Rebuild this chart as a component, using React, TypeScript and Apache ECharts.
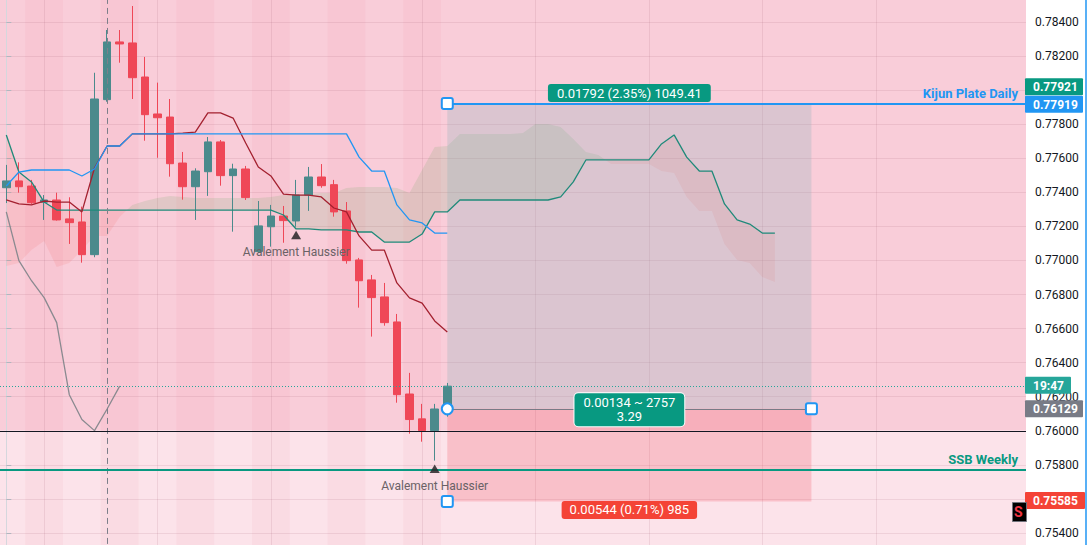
import React, { useEffect, useRef } from "react";
import * as echarts from "echarts";

// ---------- DATA ----------
const candleOpen = [0.77427, 0.77467, 0.77437, 0.77342, 0.77355, 0.77244, 0.77226, 0.77034, 0.77944, 0.78283, 0.78277, 0.78077, 0.7786, 0.77842, 0.77572, 0.77433, 0.77521, 0.77696, 0.77498, 0.77537, 0.77052, 0.77198, 0.77261, 0.77232, 0.77384, 0.7749, 0.77445, 0.77291, 0.77003, 0.76886, 0.76786, 0.76639, 0.76216, 0.7607, 0.76001, 0.76122];
const candleClose = [0.77467, 0.77433, 0.77339, 0.77355, 0.77238, 0.77222, 0.77034, 0.77948, 0.78283, 0.78271, 0.78073, 0.77856, 0.77838, 0.77568, 0.77433, 0.77525, 0.77696, 0.77498, 0.77537, 0.77369, 0.77203, 0.77261, 0.77234, 0.77384, 0.7749, 0.77439, 0.77285, 0.76999, 0.76881, 0.76782, 0.76635, 0.76212, 0.76066, 0.76001, 0.76128, 0.76262];
const candleLow = [0.77337, 0.77398, 0.77332, 0.77238, 0.77234, 0.77097, 0.76987, 0.77019, 0.77932, 0.78161, 0.77948, 0.77703, 0.77603, 0.77492, 0.77357, 0.77238, 0.77379, 0.77439, 0.77169, 0.77355, 0.77044, 0.77081, 0.77104, 0.77198, 0.77291, 0.77427, 0.77257, 0.76981, 0.76723, 0.76553, 0.76617, 0.76165, 0.75983, 0.75936, 0.75825, 0.76083];
const candleHigh = [0.77561, 0.77576, 0.77473, 0.77384, 0.77398, 0.77371, 0.77316, 0.78102, 0.78353, 0.78353, 0.78494, 0.78195, 0.78044, 0.77948, 0.77637, 0.77541, 0.77725, 0.77707, 0.77568, 0.77555, 0.77349, 0.77326, 0.7732, 0.77473, 0.77549, 0.77566, 0.77473, 0.77343, 0.77015, 0.76915, 0.76868, 0.76686, 0.7634, 0.76158, 0.76158, 0.76281];

// Ichimoku conversion line (blue)
const tenkan = [0.77437, 0.77519, 0.77531, 0.77531, 0.77531, 0.77531, 0.77496, 0.77537, 0.77672, 0.77672,
  0.77743, 0.77743, 0.77743, 0.77743, 0.77743, 0.77743, 0.77743, 0.77743, 0.77743, 0.77743,
  0.77743, 0.77743, 0.77743, 0.77743, 0.77743, 0.77743, 0.77743, 0.77743,
  0.77607, 0.77525, 0.77525, 0.77326, 0.77238, 0.7722, 0.77161, 0.77161];
// Ichimoku base line (dark red)
const kijun = [0.77355, 0.77332, 0.77326, 0.77349, 0.77343, 0.77343, 0.77285, 0.77543, 0.77672, 0.77672,
  0.77743, 0.77743, 0.77743, 0.77743, 0.77748, 0.77754, 0.77866, 0.77866, 0.77836, 0.7769,
  0.77549, 0.77496, 0.7739, 0.77384, 0.77384, 0.77373, 0.77308, 0.77285, 0.77144, 0.77061,
  0.77061, 0.76868, 0.7678, 0.7675, 0.76645, 0.7658];
// Leading span drawn as teal line (projected 26 bars ahead)
const leadB = [0.77737, 0.77519, 0.77461, 0.77343,
  0.77296, 0.77296, 0.77296, 0.77296, 0.77296, 0.77296, 0.77296, 0.77296, 0.77296, 0.77296,
  0.77296, 0.77296, 0.77296, 0.77296, 0.77296, 0.77296, 0.77296, 0.77296,
  0.77267, 0.77185, 0.77185, 0.77179, 0.77179, 0.77179, 0.77167, 0.77167, 0.77108, 0.77108,
  0.77108, 0.77155, 0.77285, 0.77285,
  0.77355, 0.77355, 0.77355, 0.77355, 0.77355, 0.77355, 0.77355, 0.77355,
  0.77373, 0.77461, 0.7759, 0.7759, 0.7759, 0.7759, 0.7759, 0.7759,
  0.77684, 0.77737, 0.77607, 0.77525, 0.77525, 0.77332, 0.77238, 0.77214, 0.77161, 0.77161];
// Other cloud boundary (not drawn as a line)
const leadA = [0.76968, 0.76985, 0.77061, 0.77114, 0.76962, 0.76985, 0.77061, 0.77144, 0.77144, 0.77255,
  0.77326, 0.77349, 0.77367, 0.77378, 0.77373, 0.77367, 0.77367, 0.77367, 0.77367, 0.77367,
  0.77367, 0.77373, 0.77384, 0.7739, 0.7739, 0.77396, 0.77396, 0.77425, 0.77431, 0.77431,
  0.77431, 0.77425, 0.77396, 0.77531, 0.77666, 0.77672, 0.77743, 0.77743, 0.77743, 0.77743,
  0.77743, 0.77748, 0.77801, 0.77801, 0.77784, 0.77713, 0.77637, 0.77619, 0.77566, 0.77566,
  0.77566, 0.77566, 0.77525, 0.77514, 0.77373, 0.7729, 0.7729, 0.77097, 0.77003, 0.76985,
  0.76903, 0.76874];
const laggingShift = 26;

const stripeStarts = [2, 8, 14, 20, 26, 32];
const stripeLen = 3;
const timeGridIdx = [3, 12, 21, 33, 42, 51, 60, 69];
const dashIdx = 8;
const patternIdx = [23, 34];
const patternText = "Avalement Haussier";
// axis ticks hidden behind the price boxes on the scale
const coveredTicks = ["0.78000", "0.75600"];

const zoneSplit = 0.76;
const ssbWeekly = 0.7577;
const kijunPlate = 0.77919;
const toolStart = 35;
const toolEnd = 63.9;
const entryPrice = 0.76129;
const targetPrice = 0.77921;
const stopPrice = 0.75585;
const targetText = "0.01792 (2.35%) 1049.41";
const entryText = "0.00134 ~ 2757\n3.29";
const stopText = "0.00544 (0.71%) 985";
const countdownText = "19:47";

const UP = "#4b8a8c";
const DOWN = "#ef4757";
const FONT = "Roboto, 'Noto Sans', sans-serif";

export default function App() {
  const ref = useRef<HTMLDivElement>(null);

  useEffect(() => {
    if (!ref.current) return;
    const chart = echarts.init(ref.current, undefined, { renderer: "svg" });

    const candleData = candleOpen.map((o, i) => [i, o, candleClose[i], candleLow[i], candleHigh[i]]);
    const lastPrice = candleClose[candleClose.length - 1];

    const renderBackground = (params: any, api: any) => {
      const cs = params.coordSys;
      const yMid = api.coord([0, zoneSplit])[1];
      const top = cs.y, bottom = cs.y + cs.height;
      const ch: any[] = [
        { type: "rect", shape: { x: cs.x, y: top, width: cs.width, height: yMid - top }, style: { fill: "#f9cdd9" } },
        { type: "rect", shape: { x: cs.x, y: yMid, width: cs.width, height: bottom - yMid }, style: { fill: "#fce3ea" } },
      ];
      stripeStarts.forEach((s) => {
        const x0 = api.coord([s - 0.5, zoneSplit])[0];
        const x1 = api.coord([s + stripeLen - 0.5, zoneSplit])[0];
        ch.push({ type: "rect", shape: { x: x0, y: top, width: x1 - x0, height: yMid - top }, style: { fill: "#f8c6d3" } });
        ch.push({ type: "rect", shape: { x: x0, y: yMid, width: x1 - x0, height: bottom - yMid }, style: { fill: "#fadbe3" } });
      });
      timeGridIdx.forEach((t) => {
        const x = Math.round(api.coord([t, zoneSplit])[0]) + 0.5;
        ch.push({ type: "line", shape: { x1: x, y1: top, x2: x, y2: bottom }, style: { stroke: "rgba(150,70,100,0.12)", lineWidth: 1 } });
      });
      return { type: "group", children: ch };
    };

    const bullFill = "rgba(67,160,71,0.13)";
    const bearFill = "rgba(244,67,54,0.10)";
    const renderCloud = (params: any, api: any) => {
      const polys: any[] = [];
      let top: number[][] = [];
      let bot: number[][] = [];
      let sign = 0;
      for (let i = 0; i < leadA.length; i++) {
        const d = leadA[i] - leadB[i];
        const s = d >= 0 ? 1 : -1;
        if (i > 0 && s !== sign) {
          const dp = leadA[i - 1] - leadB[i - 1];
          const t = dp / (dp - d);
          const pm = api.coord([i - 1 + t, leadA[i - 1] + t * (leadA[i] - leadA[i - 1])]);
          top.push(pm);
          polys.push({ type: "polygon", shape: { points: top.concat(bot.slice().reverse()) }, style: { fill: sign > 0 ? bullFill : bearFill } });
          top = [pm];
          bot = [];
        }
        sign = s;
        top.push(api.coord([i, leadA[i]]));
        bot.push(api.coord([i, leadB[i]]));
      }
      polys.push({ type: "polygon", shape: { points: top.concat(bot.slice().reverse()) }, style: { fill: sign > 0 ? bullFill : bearFill } });
      return { type: "group", children: polys };
    };

    const renderZones = (params: any, api: any) => {
      const x0 = api.coord([toolStart, entryPrice])[0];
      const x1 = api.coord([toolEnd, entryPrice])[0];
      const yT = api.coord([0, targetPrice])[1];
      const yE = api.coord([0, entryPrice])[1];
      const yS = api.coord([0, stopPrice])[1];
      return {
        type: "group",
        children: [
          { type: "rect", shape: { x: x0, y: yT, width: x1 - x0, height: yE - yT }, style: { fill: "rgba(130,175,185,0.25)" } },
          { type: "rect", shape: { x: x0, y: yE, width: x1 - x0, height: yS - yE }, style: { fill: "rgba(242,54,69,0.2)" } },
        ],
      };
    };

    const renderAnnotations = (params: any, api: any) => {
      const cs = params.coordSys;
      const left = cs.x, right = cs.x + cs.width, top = cs.y, bottom = cs.y + cs.height;
      const X = (i: number) => api.coord([i, zoneSplit])[0];
      const Y = (v: number) => api.coord([0, v])[1];
      const ch: any[] = [];
      const hl = (y: number, x1: number, x2: number, stroke: string, w: number, dash?: number[]) => {
        const yy = w % 2 === 1 ? Math.round(y) + 0.5 : Math.round(y);
        ch.push({ type: "line", shape: { x1, y1: yy, x2, y2: yy }, style: { stroke, lineWidth: w, lineDash: dash } });
      };
      const xd = Math.round(X(dashIdx)) + 0.5;
      ch.push({ type: "line", shape: { x1: xd, y1: top, x2: xd, y2: bottom }, style: { stroke: "#7d7f8a", lineWidth: 1, lineDash: [6, 4] } });
      hl(Y(zoneSplit), left, right, "#131722", 1);
      hl(Y(ssbWeekly), left, right, "#089981", 2);
      hl(Y(lastPrice), left, right, "#26a69a", 1, [1, 2]);
      const xs = X(toolStart), xe = X(toolEnd), xm = (xs + xe) / 2;
      hl(Y(entryPrice), xs, xe, "#787b86", 1);
      hl(Y(kijunPlate), xs, right, "#2196f3", 2);
      ch.push({ type: "text", x: right - 8, y: Y(kijunPlate) - 10.5, style: { text: "Kijun Plate Daily", fill: "#2196f3", font: `bold 13px ${FONT}`, align: "right", verticalAlign: "middle" } });
      ch.push({ type: "text", x: right - 8, y: Y(ssbWeekly) - 10, style: { text: "SSB Weekly", fill: "#089981", font: `bold 13px ${FONT}`, align: "right", verticalAlign: "middle" } });
      const sq = (x: number, y: number) => ch.push({ type: "rect", shape: { x: x - 5.5, y: y - 5.5, width: 11, height: 11, r: 2 }, style: { fill: "#ffffff", stroke: "#2196f3", lineWidth: 2 } });
      sq(xs, Y(targetPrice));
      sq(xe, Y(entryPrice));
      sq(xs, Y(stopPrice));
      ch.push({ type: "circle", shape: { cx: xs, cy: Y(entryPrice), r: 5.5 }, style: { fill: "#ffffff", stroke: "#2196f3", lineWidth: 2 } });
      ch.push({ type: "text", x: xm, y: Y(targetPrice) - 10.5, style: { text: targetText, fill: "#ffffff", font: `13px ${FONT}`, align: "center", verticalAlign: "middle", backgroundColor: "#089981", padding: [3, 9, 2, 9], borderRadius: 3 } });
      ch.push({ type: "text", x: xm, y: Y(entryPrice) + 1, style: { text: entryText, fill: "#ffffff", font: `13px ${FONT}`, lineHeight: 14, align: "center", verticalAlign: "middle", backgroundColor: "#089981", borderColor: "#ffffff", borderWidth: 1, padding: [3, 9, 2, 9], borderRadius: 4 } });
      ch.push({ type: "text", x: xm, y: Y(stopPrice) + 8.5, style: { text: stopText, fill: "#ffffff", font: `13px ${FONT}`, align: "center", verticalAlign: "middle", backgroundColor: "#f44336", padding: [3, 8, 2, 8], borderRadius: 3 } });
      patternIdx.forEach((idx) => {
        const x = X(idx);
        const yl = Y(candleLow[idx]);
        ch.push({ type: "polygon", shape: { points: [[x, yl + 4], [x - 5, yl + 12.5], [x + 5, yl + 12.5]] }, style: { fill: "rgba(40,38,40,0.85)" } });
        ch.push({ type: "text", x, y: yl + 25, style: { text: patternText, fill: "#6a6266", font: `12px ${FONT}`, align: "center", verticalAlign: "middle" } });
      });
      const box = (cy: number, w: number, color: string, text: string) => {
        ch.push({ type: "rect", shape: { x: right - 1, y: cy - 8.5, width: w, height: 17, r: 1 }, style: { fill: color } });
        ch.push({ type: "text", x: right + 7, y: cy + 0.5, style: { text, fill: "#ffffff", font: `bold 12px ${FONT}`, align: "left", verticalAlign: "middle" } });
      };
      box(Y(kijunPlate) - 17.2, 58, "#089981", targetPrice.toFixed(5));
      box(Y(kijunPlate) + 0.4, 58, "#2196f3", kijunPlate.toFixed(5));
      box(Y(lastPrice) - 1, 46, "#26a69a", countdownText);
      box(Y(entryPrice), 58, "#787b86", entryPrice.toFixed(5));
      box(Y(stopPrice) - 1, 60, "#f44336", stopPrice.toFixed(5));
      return { type: "group", children: ch };
    };

    const lineSeries = (name: string, vals: number[], color: string, offset = 0) => ({
      type: "line",
      name,
      data: vals.map((v, i) => [i + offset, v]),
      symbol: "none",
      silent: true,
      z: 4,
      lineStyle: { color, width: 1.3 },
    });

    const option: any = {
      animation: false,
      backgroundColor: "#ffffff",
      textStyle: { fontFamily: FONT },
      grid: { left: 0, right: 62, top: -12.07, bottom: -22.06, outerBoundsMode: "none", containLabel: false },
      xAxis: { type: "value", min: -0.5, max: 80.93, show: false },
      yAxis: {
        type: "value",
        position: "right",
        min: 0.752,
        max: 0.786,
        interval: 0.002,
        axisLine: { show: true, lineStyle: { color: "#d5d7dd" } },
        axisTick: { show: true, length: 5, lineStyle: { color: "#b2b5be" } },
        axisLabel: {
          color: "#131722",
          fontSize: 12,
          margin: 9,
          fontFamily: FONT,
          showMinLabel: false,
          showMaxLabel: false,
          formatter: (v: number) => {
            const s = v.toFixed(5);
            return coveredTicks.indexOf(s) >= 0 ? "" : s;
          },
        },
        splitLine: { show: true, lineStyle: { color: "rgba(150,70,100,0.12)" } },
      },
      series: [
        { type: "custom", name: "bg", z: -10, silent: true, data: [[0, zoneSplit]], encode: { x: 0, y: 1 }, renderItem: renderBackground },
        { type: "custom", name: "cloud", z: 1, silent: true, data: [[0, zoneSplit]], encode: { x: 0, y: 1 }, renderItem: renderCloud },
        { type: "custom", name: "zones", z: 1, silent: true, data: [[0, zoneSplit]], encode: { x: 0, y: 1 }, renderItem: renderZones },
        {
          type: "candlestick",
          name: "price",
          z: 3,
          silent: true,
          data: candleData,
          encode: { x: 0, y: [1, 2, 3, 4] },
          barWidth: 8,
          itemStyle: { color: UP, color0: DOWN, borderColor: UP, borderColor0: DOWN, borderWidth: 1 },
        },
        lineSeries("lagging", candleClose.slice(laggingShift), "#8a8a90", 0),
        lineSeries("leadB", leadB, "#1f8a7a"),
        lineSeries("kijun", kijun, "#a3202f"),
        lineSeries("tenkan", tenkan, "#2196f3"),
        { type: "custom", name: "annotations", z: 10, clip: false, silent: true, data: [[0, zoneSplit]], encode: { x: 0, y: 1 }, renderItem: renderAnnotations },
      ],
      graphic: [
        { type: "line", shape: { x1: 1086, y1: 0, x2: 1086, y2: 545 }, style: { stroke: "#2196f3", lineWidth: 1.5 }, z: 20 },
        { type: "rect", shape: { x: 1012.5, y: 502.5, width: 14, height: 19 }, style: { fill: "#000000", stroke: "#70737c", lineWidth: 1 }, z: 20 },
        { type: "text", x: 1014, y: 512, style: { text: "S", fill: "#f23645", font: `bold 14px ${FONT}`, verticalAlign: "middle" }, z: 21 },
      ],
    };

    chart.setOption(option);
    return () => chart.dispose();
  }, []);

  return <div ref={ref} style={{ position: "absolute", left: 0, top: 0, width: 1088, height: 545 }} />;
}
